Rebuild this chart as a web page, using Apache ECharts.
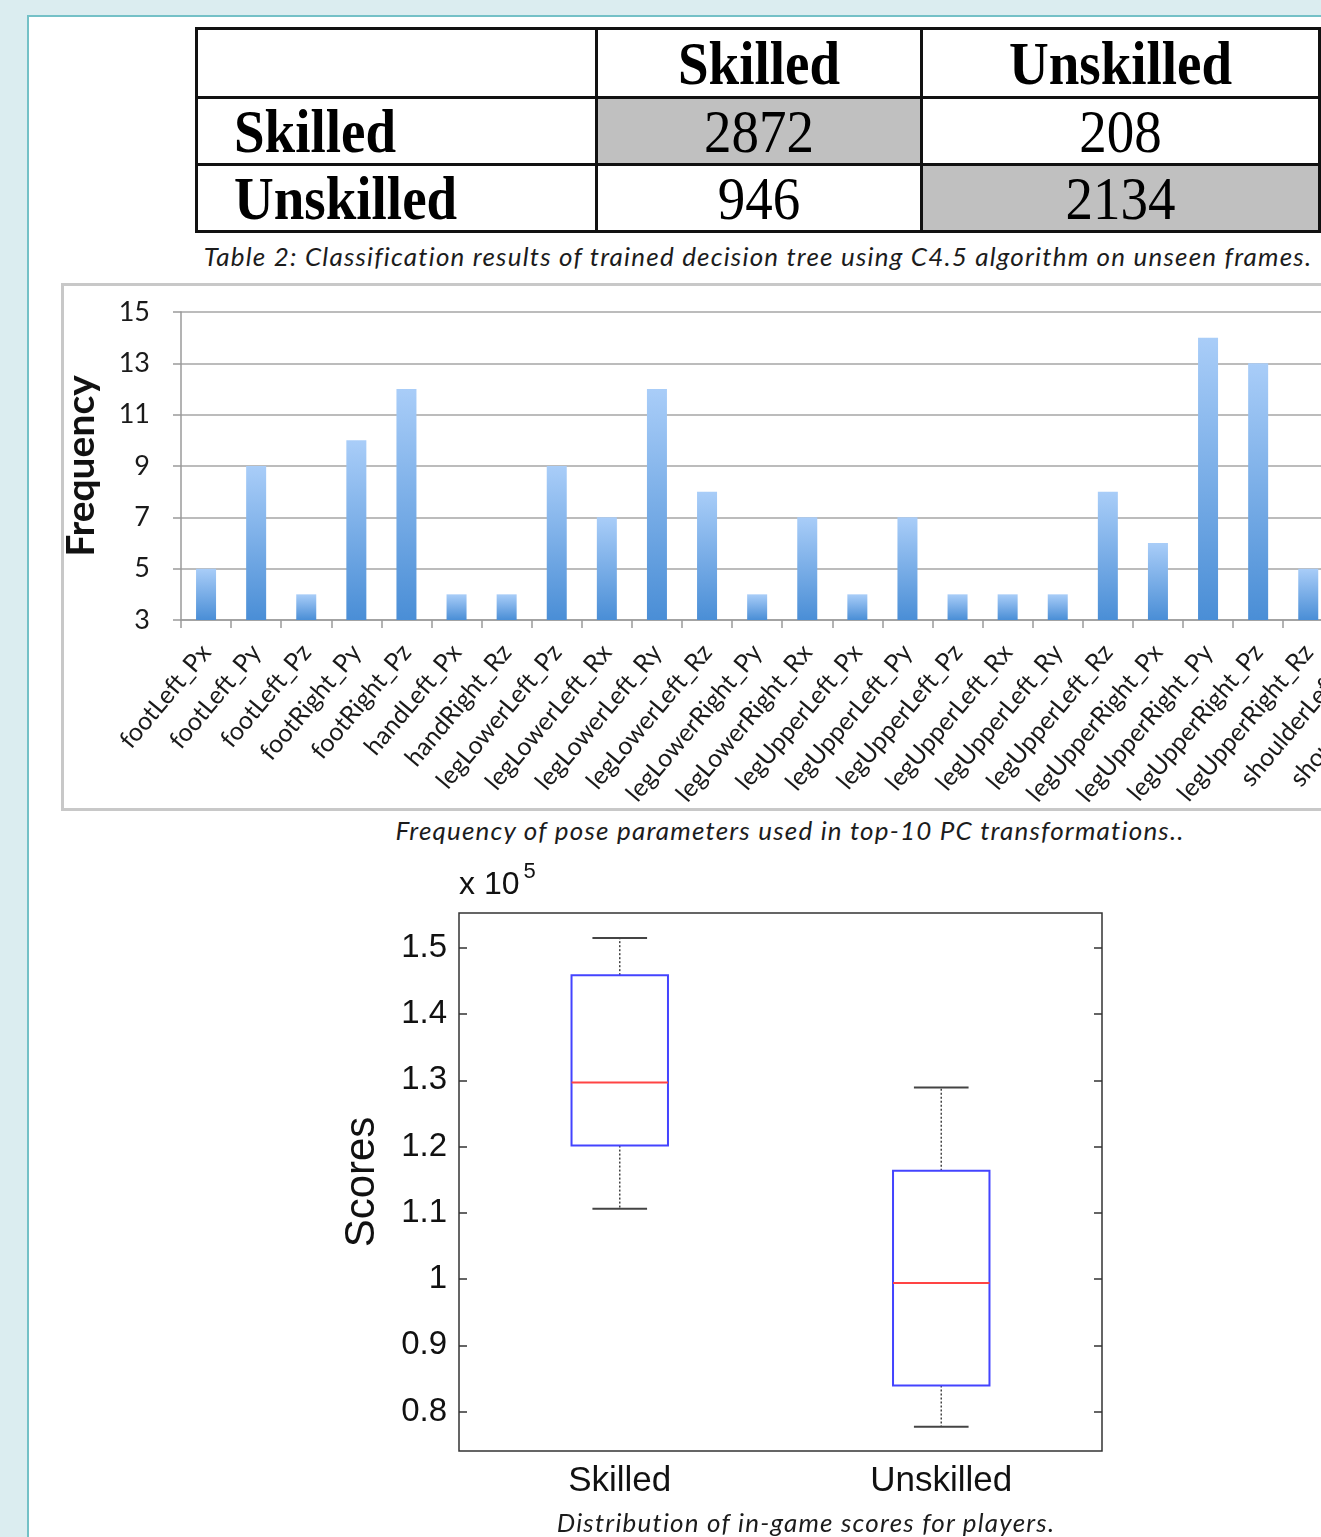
<!DOCTYPE html>
<html>
<head>
<meta charset="utf-8">
<script src="https://cdn.jsdelivr.net/npm/echarts@6/dist/echarts.min.js"></script>
<style>
  html, body { margin:0; padding:0; width:1321px; height:1537px; overflow:hidden; background:#dbedf0; }
  #panel { position:absolute; left:27px; top:15px; width:1400px; height:1600px; background:#fff; border-left:2px solid #74c1c7; border-top:2px solid #74c1c7; }
  #tbl { position:absolute; left:195px; top:27px; border-collapse:collapse; border:3px solid #111; table-layout:fixed; }
  #tbl td { border:3px solid #111; padding:0; font-family:"Liberation Serif", serif; font-size:55px; color:#000; line-height:1; overflow:hidden; white-space:nowrap; }
  #tbl td span { display:inline-block; transform:scaleY(1.13); }
  #tbl td.hd { font-weight:bold; text-align:center; }
  #tbl td.rh { font-weight:bold; text-align:left; padding-left:36px; }
  #tbl td.num { text-align:center; }
  #tbl td.diag { background:#c0c0c0; }
  .cap { position:absolute; width:1300px; text-align:center; font-family:Lato, "Open Sans", sans-serif; font-style:italic; font-size:26px; letter-spacing:1.2px; color:#1c1c1c; white-space:nowrap; }
  #barPanel { position:absolute; left:61px; top:283px; width:1400px; height:528px; box-sizing:border-box; border:3px solid #c8c8c8; background:#fff; }
  #barChart { position:absolute; left:64px; top:287px; width:1460px; height:520px; }
  #boxChart { position:absolute; left:320px; top:855px; width:820px; height:665px; }
</style>
</head>
<body>
<div id="panel"></div>
<table id="tbl"></table>
<div class="cap" id="cap1"></div>
<div id="barPanel"></div>
<div id="barChart"></div>
<div class="cap" id="cap2"></div>
<div id="boxChart"></div>
<div class="cap" id="cap3"></div>
<script>
// ---------- Table data ----------
const tableColHeaders = ['', 'Skilled', 'Unskilled'];
const tableRowHeaders = ['Skilled', 'Unskilled'];
const skilledRow = [2872, 208];
const unskilledRow = [946, 2134];
const tableCaption = 'Table 2: Classification results of trained decision tree using C4.5 algorithm  on unseen frames.';

// ---------- Bar chart data ----------
const paramNames = ['footLeft_Px','footLeft_Py','footLeft_Pz','footRight_Py','footRight_Pz','handLeft_Px','handRight_Rz',
  'legLowerLeft_Pz','legLowerLeft_Rx','legLowerLeft_Ry','legLowerLeft_Rz','legLowerRight_Py','legLowerRight_Rx',
  'legUpperLeft_Px','legUpperLeft_Py','legUpperLeft_Pz','legUpperLeft_Rx','legUpperLeft_Ry','legUpperLeft_Rz',
  'legUpperRight_Px','legUpperRight_Py','legUpperRight_Pz','legUpperRight_Rz','shoulderLeft_Px','shoulderLeft_Py'];
const paramFreq = [5, 9, 4, 10, 12, 4, 4, 9, 7, 12, 8, 4, 7, 4, 7, 4, 4, 4, 8, 6, 14, 13, 5, null, null];
const freqTicks = [3, 15, 2]; // min, max, step
const barCaption = 'Frequency of pose parameters used in top-10 PC transformations..';

// ---------- Box plot data (x 10^5) ----------
const groups = ['Skilled', 'Unskilled'];
const whiskerLow = [1.106, 0.777];
const quartile1 = [1.2015, 0.8395];
const medians = [1.2965, 0.994];
const quartile3 = [1.4587, 1.1633];
const whiskerHigh = [1.5147, 1.289];
const scoreTicks = [0.8, 0.9, 1.0, 1.1, 1.2, 1.3, 1.4, 1.5];
const scoreRange = [0.7405, 1.5525];
const boxCaption = 'Distribution of in-game scores for players.';

// ---------- Build table ----------
(function () {
  const t = document.getElementById('tbl');
  const colW = [400, 325, 398];
  const rowH = [69, 67, 67];
  const cg = document.createElement('colgroup');
  colW.forEach(w => { const c = document.createElement('col'); c.style.width = w + 'px'; cg.appendChild(c); });
  t.appendChild(cg);
  t.style.width = colW.reduce((a, b) => a + b, 0) + 'px';
  const hr = document.createElement('tr'); hr.style.height = rowH[0] + 'px';
  tableColHeaders.forEach(h => { const td = document.createElement('td'); td.className = 'hd'; td.innerHTML = '<span>' + h + '</span>'; hr.appendChild(td); });
  t.appendChild(hr);
  [skilledRow, unskilledRow].forEach((row, i) => {
    const tr = document.createElement('tr'); tr.style.height = rowH[i + 1] + 'px';
    const th = document.createElement('td'); th.className = 'rh'; th.innerHTML = '<span>' + tableRowHeaders[i] + '</span>'; tr.appendChild(th);
    row.forEach((v, j) => { const td = document.createElement('td'); td.className = 'num' + (i === j ? ' diag' : ''); td.innerHTML = '<span>' + v + '</span>'; tr.appendChild(td); });
    t.appendChild(tr);
  });
})();

function placeCaption(id, text, cx, cy) {
  const el = document.getElementById(id);
  el.textContent = text;
  el.style.left = (cx - 650) + 'px';
  el.style.top = (cy - 17) + 'px';
}
placeCaption('cap1', tableCaption, 758, 257);
placeCaption('cap2', barCaption, 790, 831);
placeCaption('cap3', boxCaption, 806, 1523);

// ---------- Bar chart ----------
const barChart = echarts.init(document.getElementById('barChart'), null, { renderer: 'canvas' });
barChart.setOption({
  animation: false,
  grid: { left: 117, top: 25, width: 1252.5, height: 308, containLabel: false, outerBoundsMode: 'none' },
  xAxis: {
    type: 'category', data: paramNames, boundaryGap: true,
    axisLine: { show: true, lineStyle: { color: '#9a9a9a', width: 1.5 } },
    axisTick: { show: true, length: 8, interval: 0, lineStyle: { color: '#9a9a9a', width: 1.5 } },
    axisLabel: { interval: 0, rotate: 50, margin: 28, fontFamily: 'Lato', fontSize: 25, color: '#1a1a1a' }
  },
  yAxis: {
    type: 'value', min: freqTicks[0], max: freqTicks[1], interval: freqTicks[2],
    name: 'Frequency', nameLocation: 'middle', nameGap: 80,
    nameTextStyle: { fontFamily: 'Lato', fontWeight: 'bold', fontSize: 39, color: '#111' },
    axisLine: { show: true, lineStyle: { color: '#9a9a9a', width: 1.5 } },
    axisTick: { show: true, length: 8, lineStyle: { color: '#9a9a9a', width: 1.5 } },
    axisLabel: { margin: 31, fontFamily: 'Lato', fontSize: 27, color: '#1a1a1a', padding: [7, 0, 0, 0] },
    splitLine: { show: true, lineStyle: { color: '#a6a6a6', width: 1.5 } }
  },
  series: [{
    type: 'bar', data: paramFreq, barWidth: 20,
    itemStyle: {
      color: new echarts.graphic.LinearGradient(0, 0, 0, 1, [
        { offset: 0, color: '#a9cdf8' }, { offset: 1, color: '#4a8ed6' }
      ])
    }
  }]
});

// ---------- Box plot ----------
const boxData = groups.map((g, i) => [i, whiskerLow[i], quartile1[i], medians[i], quartile3[i], whiskerHigh[i]]);
const fmt = v => String(Number(v.toFixed(1)));
const boxChart = echarts.init(document.getElementById('boxChart'), null, { renderer: 'canvas' });
boxChart.setOption({
  animation: false,
  grid: { left: 139, top: 58, width: 643, height: 538, show: true, borderColor: '#333', borderWidth: 1.5, backgroundColor: 'transparent', containLabel: false, outerBoundsMode: 'none' },
  xAxis: {
    type: 'category', data: groups, boundaryGap: true,
    axisLine: { show: false }, axisTick: { show: false },
    axisLabel: { margin: 13, fontFamily: 'Liberation Sans', fontSize: 35, color: '#111' }
  },
  yAxis: [
    {
      type: 'value', position: 'left', min: scoreRange[0], max: scoreRange[1],
      name: 'Scores', nameLocation: 'middle', nameGap: 76,
      nameTextStyle: { fontFamily: 'Liberation Sans', fontSize: 42, color: '#111' },
      axisLine: { show: false }, splitLine: { show: false },
      axisTick: { show: true, inside: true, length: 8, customValues: scoreTicks, lineStyle: { color: '#333', width: 1.5 } },
      axisLabel: { margin: 12, fontFamily: 'Liberation Sans', fontSize: 33, color: '#111', customValues: scoreTicks, formatter: fmt }
    },
    {
      type: 'value', position: 'right', min: scoreRange[0], max: scoreRange[1],
      axisLine: { show: false }, splitLine: { show: false }, axisLabel: { show: false },
      axisTick: { show: true, inside: true, length: 8, customValues: scoreTicks, lineStyle: { color: '#333', width: 1.5 } }
    },
    {
      type: 'value', position: 'left', min: scoreRange[0], max: scoreRange[1],
      axisLine: { show: false }, splitLine: { show: false }, axisLabel: { show: false }, axisTick: { show: false },
      name: '{b|x 10}{s|5}', nameLocation: 'end', nameGap: 4,
      nameTextStyle: {
        align: 'left', verticalAlign: 'bottom',
        rich: {
          b: { fontFamily: 'Liberation Sans', fontSize: 32, color: '#111' },
          s: { fontFamily: 'Liberation Sans', fontSize: 22, color: '#111', verticalAlign: 'top', padding: [0, 0, 26, 4] }
        }
      }
    }
  ],
  series: [{
    type: 'custom', xAxisIndex: 0, yAxisIndex: 0, data: boxData,
    encode: { x: 0, y: [1, 2, 3, 4, 5] },
    renderItem: function (params, api) {
      const idx = api.value(0);
      const pLow = api.coord([idx, api.value(1)]);
      const pQ1 = api.coord([idx, api.value(2)]);
      const pMed = api.coord([idx, api.value(3)]);
      const pQ3 = api.coord([idx, api.value(4)]);
      const pHigh = api.coord([idx, api.value(5)]);
      const band = api.size([1, 0])[0];
      const bw = band * 0.30, cw = band * 0.17;
      const x = pMed[0];
      const dotted = { stroke: '#444', lineWidth: 1.5, lineDash: [2, 2] };
      const solid = { stroke: '#444', lineWidth: 2 };
      return {
        type: 'group', children: [
          { type: 'line', shape: { x1: x, y1: pQ3[1], x2: x, y2: pHigh[1] }, style: dotted },
          { type: 'line', shape: { x1: x, y1: pQ1[1], x2: x, y2: pLow[1] }, style: dotted },
          { type: 'line', shape: { x1: x - cw / 2, y1: pHigh[1], x2: x + cw / 2, y2: pHigh[1] }, style: solid },
          { type: 'line', shape: { x1: x - cw / 2, y1: pLow[1], x2: x + cw / 2, y2: pLow[1] }, style: solid },
          { type: 'rect', shape: { x: x - bw / 2, y: pQ3[1], width: bw, height: pQ1[1] - pQ3[1] }, style: { fill: 'rgba(0,0,0,0)', stroke: '#4444ff', lineWidth: 2 } },
          { type: 'line', shape: { x1: x - bw / 2, y1: pMed[1], x2: x + bw / 2, y2: pMed[1] }, style: { stroke: '#ff4444', lineWidth: 2 } }
        ]
      };
    }
  }]
});
</script>
</body>
</html>
